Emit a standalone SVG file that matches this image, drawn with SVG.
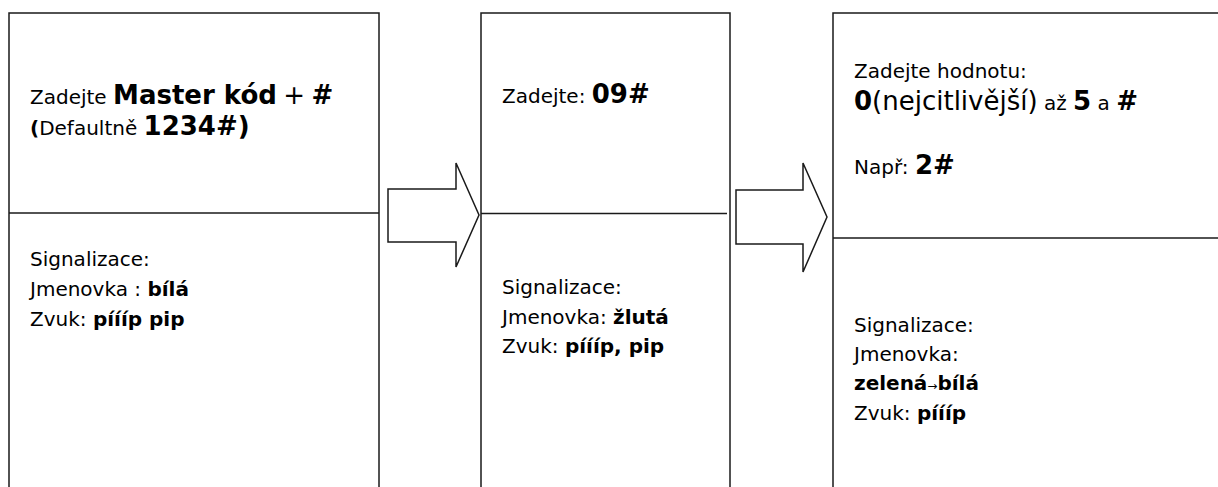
<svg xmlns="http://www.w3.org/2000/svg" width="1218" height="487" viewBox="0 0 1218 487">
<style>
.box{fill:#fff;stroke:#1a1a1a;stroke-width:1.5}
.div{stroke:#1a1a1a;stroke-width:1.5}
.arr{fill:#fff;stroke:#1a1a1a;stroke-width:1.5;stroke-linejoin:miter}
text{font-family:"DejaVu Sans",Verdana,sans-serif;font-size:20px;fill:#000}
.b{font-weight:bold}
.L{font-size:26px}
.s{font-size:12px}
</style>
<rect width="1218" height="487" fill="#fff"/>
<g id="connectors">
<polygon class="arr" points="388,189 456,189 456,163 479,215 456,267 456,242 388,242"/>
<polygon class="arr" points="736,190 803,190 803,163 827,217 803,272 803,244 736,244"/>
</g>
<g id="step1">
<rect class="box" x="9" y="13" width="370" height="490"/>
<line class="div" x1="9" y1="213" x2="379" y2="213"/>
<text x="30" y="104">Zadejte <tspan class="b L">Master kód</tspan> <tspan class="L">+</tspan> <tspan class="b L">#</tspan></text>
<text x="30" y="135"><tspan class="b">(</tspan>Defaultně <tspan class="b L">1234#)</tspan></text>
<text x="30" y="266">Signalizace:</text>
<text x="30" y="296">Jmenovka : <tspan class="b">bílá</tspan></text>
<text x="30" y="326">Zvuk: <tspan class="b">píííp pip</tspan></text>
</g>
<g id="step2">
<rect class="box" x="481" y="13" width="249" height="490"/>
<line class="div" x1="481" y1="213.5" x2="727" y2="213.5"/>
<text x="502" y="103">Zadejte: <tspan class="b L">09#</tspan></text>
<text x="502" y="294">Signalizace:</text>
<text x="502" y="323.5">Jmenovka: <tspan class="b">žlutá</tspan></text>
<text x="502" y="353">Zvuk: <tspan class="b">píííp, pip</tspan></text>
</g>
<g id="step3">
<rect class="box" x="833" y="13" width="400" height="490"/>
<line class="div" x1="833" y1="238" x2="1218" y2="238"/>
<text x="854" y="78">Zadejte hodnotu:</text>
<text x="854" y="110"><tspan class="b L">0</tspan><tspan class="L">(nejcitlivější)</tspan> až <tspan class="b L">5</tspan> a <tspan class="b L">#</tspan></text>
<text x="854" y="174">Např: <tspan class="b L">2#</tspan></text>
<text x="854" y="332">Signalizace:</text>
<text x="854" y="361">Jmenovka:</text>
<text x="854" y="390"><tspan class="b">zelená</tspan><tspan class="s">→</tspan><tspan class="b">bílá</tspan></text>
<text x="854" y="420">Zvuk: <tspan class="b">píííp</tspan></text>
</g>
</svg>
